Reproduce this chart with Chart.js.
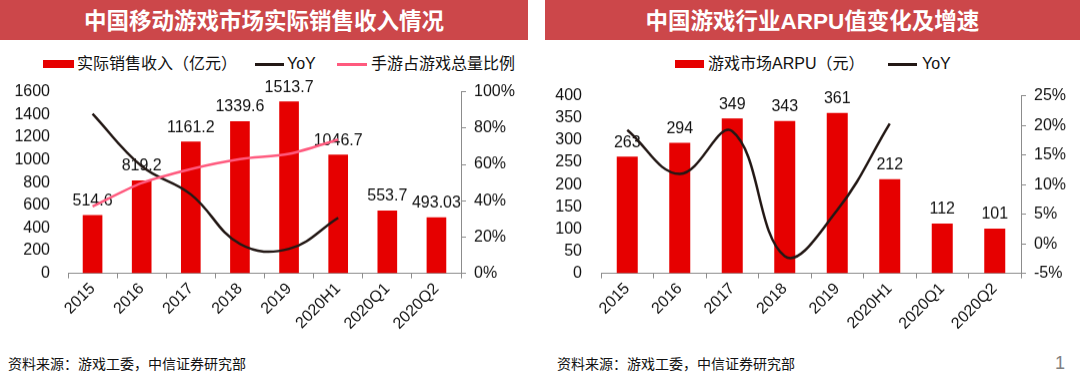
<!DOCTYPE html>
<html>
<head>
<meta charset="utf-8">
<script src="https://cdn.jsdelivr.net/npm/chart.js@4.4.1/dist/chart.umd.min.js"></script>
<style>
  body { margin: 0; width: 1080px; height: 377px; background: #fff; position: relative; overflow: hidden;
         font-family: "Liberation Sans", Arial, "Noto Sans CJK SC", sans-serif; color: #111; }
  .title { position: absolute; top: 0; height: 40px; background: #cc474a; color: #fff;
           font: bold 22.5px "Liberation Sans", Arial, "Noto Sans CJK SC", sans-serif;
           text-align: center; line-height: 44px; }
  .box { position: absolute; }
  .lg { position: absolute; font-size: 16px; line-height: 18px; white-space: nowrap; }
  .chartwrap { position: absolute; top: 70px; width: 540px; height: 280px; }
  .src { position: absolute; top: 353px; font-size: 14px; white-space: nowrap; }
  .page { position: absolute; left: 1055px; top: 353px; font-size: 18px; color: #808080; }
</style>
</head>
<body>
<div class="title" style="left:0;width:528px">中国移动游戏市场实际销售收入情况</div>
<div class="title" style="left:545px;width:535px">中国游戏行业ARPU值变化及增速</div>

<div class="box" style="left:43px;top:60px;width:31px;height:8px;background:#e60000"></div>
<div class="lg" id="lg1a" style="left:77px;top:55px"></div>
<div class="box" style="left:255px;top:63px;width:29px;height:2.5px;background:#231815"></div>
<div class="lg" id="lg1b" style="left:287px;top:55px"></div>
<div class="box" style="left:337px;top:63px;width:30px;height:2.5px;background:#ff5a7e"></div>
<div class="lg" id="lg1c" style="left:371px;top:55px"></div>

<div class="box" style="left:675px;top:60px;width:29px;height:8px;background:#e60000"></div>
<div class="lg" id="lg2a" style="left:708px;top:55px"></div>
<div class="box" style="left:888px;top:63px;width:29px;height:2.5px;background:#231815"></div>
<div class="lg" id="lg2b" style="left:922px;top:55px"></div>

<div class="chartwrap" id="w1" style="left:0"><canvas id="c1" width="540" height="280"></canvas></div>
<div class="chartwrap" id="w2" style="left:540px"><canvas id="c2" width="540" height="280"></canvas></div>

<div class="src" style="left:8px">资料来源：游戏工委，中信证券研究部</div>
<div class="src" style="left:557px">资料来源：游戏工委，中信证券研究部</div>
<div class="page">1</div>

<script>
const categories = ["2015", "2016", "2017", "2018", "2019", "2020H1", "2020Q1", "2020Q2"];

// left chart
const revenueName = "实际销售收入（亿元）";
const revenue = [514.6, 819.2, 1161.2, 1339.6, 1513.7, 1046.7, 553.7, 493.03];
const revenueYoY = [87.8, 59.0, 43.5, 16.2, 13.5, 30.6];
const mobileShareName = "手游占游戏总量比例";
const mobileShare = [36.8, 49.7, 57.4, 62.9, 65.8, 73.7];

// right chart
const arpuName = "游戏市场ARPU（元）";
const arpu = [263, 294, 349, 343, 361, 212, 112, 101];
const arpuYoY = [19.2, 11.8, 19.0, -2.1, 5.7, 20.3];

document.getElementById("lg1a").textContent = revenueName;
document.getElementById("lg1b").textContent = "YoY";
document.getElementById("lg1c").textContent = mobileShareName;
document.getElementById("lg2a").textContent = arpuName;
document.getElementById("lg2b").textContent = "YoY";

const FONT = '"Liberation Sans", Arial, "Noto Sans CJK SC", sans-serif';
const RED = "#e60000";
const DARK = "#231815";
const PINK = "#ff5a7e";
const AXIS = "#8c8c8c";
const X_AXIS_H = 77;

// value labels above bars, drawn right after the bar dataset so lines sit on top
const barLabels = {
  id: "barLabels",
  afterDatasetDraw(chart, args) {
    if (args.index !== 0) return;
    const ctx = chart.ctx;
    const values = chart.data.datasets[0].data;
    ctx.save();
    ctx.font = "16px " + FONT;
    ctx.fillStyle = "#111";
    ctx.textAlign = "center";
    ctx.textBaseline = "bottom";
    args.meta.data.forEach((bar, i) => {
      ctx.fillText(String(values[i]), bar.x, bar.y - 6);
    });
    ctx.restore();
  }
};

function makeChart(id, o) {
  return new Chart(document.getElementById(id), {
    type: "bar",
    data: {
      labels: categories,
      datasets: [
        { type: "bar", data: o.bars, backgroundColor: RED, barPercentage: 0.8, categoryPercentage: 0.5,
          yAxisID: "y", order: 3 },
        ...o.lines.map((l, k) => ({
          type: "line", data: l.data, borderColor: l.color, borderWidth: 2.5, tension: l.tension,
          pointRadius: 0, fill: false, yAxisID: "y1", order: 2 - k
        }))
      ]
    },
    options: {
      responsive: false,
      maintainAspectRatio: false,
      animation: false,
      events: [],
      layout: { padding: 0 },
      plugins: { legend: { display: false }, tooltip: { enabled: false } },
      scales: {
        x: {
          grid: { offset: true, drawOnChartArea: false, drawTicks: true, tickLength: 5, color: AXIS },
          border: { display: true, color: AXIS },
          ticks: { color: "#111", font: { size: 16, family: FONT }, maxRotation: 45, minRotation: 45,
                   padding: 1, autoSkip: false },
          afterFit(s) { s.height = X_AXIS_H; }
        },
        y: {
          position: "left",
          min: o.yMin, max: o.yMax,
          grid: { display: false, drawTicks: false },
          border: { display: false },
          ticks: { stepSize: o.yStep, autoSkip: false, color: "#111", font: { size: 16, family: FONT },
                   padding: o.leftPad, callback: v => String(v) },
          afterFit(s) { s.width = o.leftW; }
        },
        y1: {
          position: "right",
          min: o.y1Min, max: o.y1Max,
          grid: { drawOnChartArea: false, drawTicks: true, tickLength: 5, color: AXIS },
          border: { display: true, color: AXIS },
          ticks: { stepSize: o.y1Step, autoSkip: false, color: "#111", font: { size: 16, family: FONT },
                   padding: 8, callback: v => v + "%" },
          afterFit(s) { s.width = o.rightW; }
        }
      }
    },
    plugins: [barLabels]
  });
}

// move/resize the canvas so the plot area lands on the wanted page rows
function place(chart, wrapId, top, bottom) {
  const wrap = document.getElementById(wrapId);
  const wrapTop = top - chart.chartArea.top;
  const h = bottom - wrapTop + X_AXIS_H;
  wrap.style.top = wrapTop + "px";
  wrap.style.height = h + "px";
  chart.resize(540, h);
}

const ch1 = makeChart("c1", {
  bars: revenue,
  lines: [
    { data: revenueYoY, color: DARK, tension: 0.4 },
    { data: mobileShare, color: PINK, tension: 0.3 }
  ],
  yMin: 0, yMax: 1600, yStep: 200,
  y1Min: 0, y1Max: 100, y1Step: 20,
  leftW: 68, rightW: 79, leftPad: 18
});

const ch2 = makeChart("c2", {
  bars: arpu,
  lines: [{ data: arpuYoY, color: DARK, tension: 0.4 }],
  yMin: 0, yMax: 400, yStep: 50,
  y1Min: -5, y1Max: 25, y1Step: 5,
  leftW: 61, rightW: 59, leftPad: 19
});

place(ch1, "w1", 92, 273);
place(ch2, "w2", 96, 273);
</script>
</body>
</html>
